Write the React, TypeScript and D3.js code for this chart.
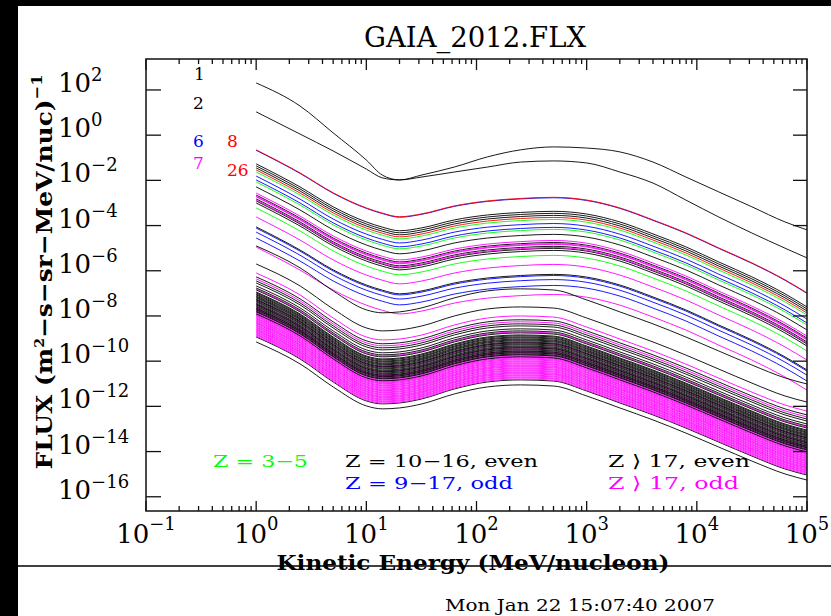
import * as d3 from "d3";

// energy grid (MeV/nucleon) used for every curve
const energyGrid = [1, 2.5, 5, 10, 14, 20, 32, 63, 126, 251, 501, 1000, 2000, 4000, 7940, 15800, 31600, 63100, 100000];

// log10 flux for H and He
const hydrogenLogFlux = [2.31, 1.29, 0.1, -1.1, -1.77, -1.98, -1.76, -1.41, -0.96, -0.65, -0.52, -0.57, -0.74, -1.19, -1.85, -2.51, -3.17, -3.84, -4.19];
const heliumLogFlux = [1.03, 0.05, -0.7, -1.5, -1.89, -1.98, -1.85, -1.63, -1.41, -1.19, -1.14, -1.23, -1.63, -2.12, -2.87, -3.62, -4.33, -5.0, -5.43];

// spectral shape relative to the 1 MeV/n value (Z 3-28 read from O, Z>28)
const lightShape = [0, -1.02, -1.9, -2.57, -2.8, -2.96, -2.83, -2.48, -2.26, -2.15, -2.1, -2.22, -2.57, -3.1, -3.67, -4.34, -5.0, -5.75, -6.33];
const heavyShape = [0, -0.97, -1.99, -2.83, -2.96, -2.92, -2.74, -2.3, -1.99, -1.9, -1.95, -2.39, -2.92, -3.45, -4.03, -4.65, -5.27, -5.84, -6.11];

// log10 flux at 1 MeV/n for Z = 3 ... 92
const firstZ = 3;
const startLogFlux = [
  -2.07, -3.22, -1.63, -0.67, -2.56, -0.65, -4.11, -1.27, -1.98, -1.36,
  -1.81, -1.45, -4.55, -2.29, -4.29, -2.65, -2.73, -2.82, -3.62, -2.91,
  -2.7, -3.0, -2.87, -1.54, -4.95, -4.06, -6.1, -4.9, -6.36, -5.7,
  -6.81, -6.27, -7.29, -6.54, -7.51, -6.45, -7.65, -6.67, -7.73, -6.94,
  -7.82, -7.12, -7.87, -7.29, -7.91, -7.38, -7.96, -6.76, -8.0, -6.98,
  -8.04, -7.03, -8.09, -6.85, -8.13, -7.2, -8.18, -7.16, -8.22, -7.43,
  -8.27, -7.34, -8.31, -7.47, -8.35, -7.56, -8.4, -7.51, -8.44, -7.65,
  -8.49, -7.6, -8.53, -7.25, -8.58, -7.07, -8.62, -7.69, -8.66, -7.73,
  -8.71, -7.78, -8.75, -7.82, -8.8, -7.91, -8.84, -8.93, -8.89, -9.15,
];

const xTickExponents = [-1, 0, 1, 2, 3, 4, 5];
const yTickExponents = [2, 0, -2, -4, -6, -8, -10, -12, -14, -16];

const GREEN = "#00ff00";
const BLUE = "#0000ff";
const MAGENTA = "#ff00ff";
const RED = "#ff0000";
const BLACK = "#000000";

const zLabels = [
  { text: "1", x: 194, y: 80, color: BLACK },
  { text: "2", x: 193, y: 109, color: BLACK },
  { text: "6", x: 193, y: 147, color: BLUE },
  { text: "8", x: 227, y: 147, color: RED },
  { text: "7", x: 193, y: 169, color: MAGENTA },
  { text: "26", x: 227, y: 176, color: RED },
];

const legendItems = [
  { text: "Z = 3\u22125", x: 213, y: 467, len: 95, color: GREEN },
  { text: "Z = 10\u221216, even", x: 345, y: 467, len: 193, color: BLACK },
  { text: "Z = 9\u221217, odd", x: 345, y: 489, len: 168, color: BLUE },
  { text: "Z \u27E9 17, even", x: 608, y: 467, len: 142, color: BLACK },
  { text: "Z \u27E9 17, odd", x: 608, y: 489, len: 131, color: MAGENTA },
];

function colorFor(z: number) {
  if (z <= 2) return BLACK;
  if (z <= 5) return GREEN;
  if (z === 6) return BLUE;
  if (z === 7) return MAGENTA;
  if (z === 8 || z === 26) return RED;
  if (z <= 17) return z % 2 === 1 ? BLUE : BLACK;
  return z % 2 === 1 ? MAGENTA : BLACK;
}

const exp = (n: number) => (n < 0 ? "\u2212" + Math.abs(n) : String(n));

export default function App() {
  const width = 831;
  const height = 616;
  const left = 146;
  const right = 807;
  const top = 59;
  const bottom = 511;
  const font = "'DejaVu Serif', serif";

  const x = d3.scaleLog().domain([0.1, 1e5]).range([left, right]);
  const y = d3.scaleLog().domain([10 ** -16.63, 10 ** 3.37]).range([bottom, top]);

  const line = d3
    .line<number>()
    .x((_, i) => x(energyGrid[i]))
    .y((d) => y(10 ** d))
    .curve(d3.curveMonotoneX);

  const curves = [
    { z: 1, logs: hydrogenLogFlux },
    { z: 2, logs: heliumLogFlux },
    ...startLogFlux.map((s, i) => {
      const z = firstZ + i;
      const shape = z <= 28 ? lightShape : heavyShape;
      return { z, logs: shape.map((v) => s + v) };
    }),
  ];

  const allXTicks = x.ticks();
  const minorX = allXTicks.filter((t) => Math.abs(Math.log10(t) - Math.round(Math.log10(t))) > 1e-6);

  return (
    <svg width={width} height={height} style={{ position: "absolute", left: 0, top: 0, display: "block" }}>
      <rect x={0} y={0} width={width} height={height} fill="#fff" />
      <rect x={0} y={0} width={width} height={6} fill="#000" />
      <rect x={0} y={0} width={18} height={height} fill="#000" />

      {/* title */}
      <text x={475} y={47} fontFamily={font} fontSize={27} textAnchor="middle" textLength={222} lengthAdjust="spacingAndGlyphs">
        GAIA_2012.FLX
      </text>

      {/* curves */}
      <g fill="none" strokeWidth={0.9}>
        {curves.map((c) => (
          <path key={c.z} d={line(c.logs) ?? ""} stroke={colorFor(c.z)} />
        ))}
      </g>

      {/* frame */}
      <rect x={left} y={top} width={right - left} height={bottom - top} fill="none" stroke="#111" strokeWidth={1.5} />

      {/* ticks */}
      <g stroke="#111" strokeWidth={1.3}>
        {xTickExponents.map((e) => (
          <g key={e}>
            <line x1={x(10 ** e)} x2={x(10 ** e)} y1={bottom} y2={bottom - 10} />
            <line x1={x(10 ** e)} x2={x(10 ** e)} y1={top} y2={top + 11} />
          </g>
        ))}
        {minorX.map((t) => (
          <g key={t}>
            <line x1={x(t)} x2={x(t)} y1={bottom} y2={bottom - 5} />
            <line x1={x(t)} x2={x(t)} y1={top} y2={top + 5} />
          </g>
        ))}
        {yTickExponents.map((e) => (
          <g key={e}>
            <line x1={left} x2={left + 15} y1={y(10 ** e)} y2={y(10 ** e)} />
            <line x1={right} x2={right - 14} y1={y(10 ** e)} y2={y(10 ** e)} />
          </g>
        ))}
      </g>

      {/* x tick labels */}
      {xTickExponents.map((e) => (
        <text key={e} x={x(10 ** e)} y={543} fontFamily={font} fontSize={26} textAnchor="middle">
          10
          <tspan dy={-13} fontSize={18}>
            {exp(e)}
          </tspan>
        </text>
      ))}

      {/* y tick labels */}
      {yTickExponents.map((e) => (
        <text key={e} x={58} y={y(10 ** e) + 2} fontFamily={font} fontSize={26}>
          10
          <tspan dy={-11} fontSize={18}>
            {exp(e)}
          </tspan>
        </text>
      ))}

      {/* y axis title */}
      <text
        transform="translate(52,272) rotate(-90)"
        fontFamily={font}
        fontSize={23}
        fontWeight="bold"
        textAnchor="middle"
        textLength={395}
        lengthAdjust="spacingAndGlyphs"
      >
        FLUX (m<tspan dy={-8} fontSize={13}>2</tspan>
        <tspan dy={8}>{"\u2212s\u2212sr\u2212MeV/nuc)"}</tspan>
        <tspan dy={-10} fontSize={15}>{"\u22121"}</tspan>
      </text>

      {/* x axis title */}
      <text x={473} y={570} fontFamily={font} fontSize={21} fontWeight="bold" textAnchor="middle" textLength={393} lengthAdjust="spacingAndGlyphs">
        Kinetic Energy (MeV/nucleon)
      </text>
      <line x1={18} x2={width} y1={566} y2={566} stroke="#000" strokeWidth={1.5} />

      {/* element number labels */}
      {zLabels.map((l) => (
        <text key={l.text} x={l.x} y={l.y} fontFamily={font} fontSize={17} fill={l.color}>
          {l.text}
        </text>
      ))}

      {/* legend */}
      {legendItems.map((l) => (
        <text key={l.text} x={l.x} y={l.y} fontFamily={font} fontSize={17} fill={l.color} textLength={l.len} lengthAdjust="spacingAndGlyphs">
          {l.text}
        </text>
      ))}

      {/* date stamp */}
      <text x={445} y={611} fontFamily={font} fontSize={17} textLength={270} lengthAdjust="spacingAndGlyphs">
        Mon Jan 22 15:07:40 2007
      </text>
    </svg>
  );
}
